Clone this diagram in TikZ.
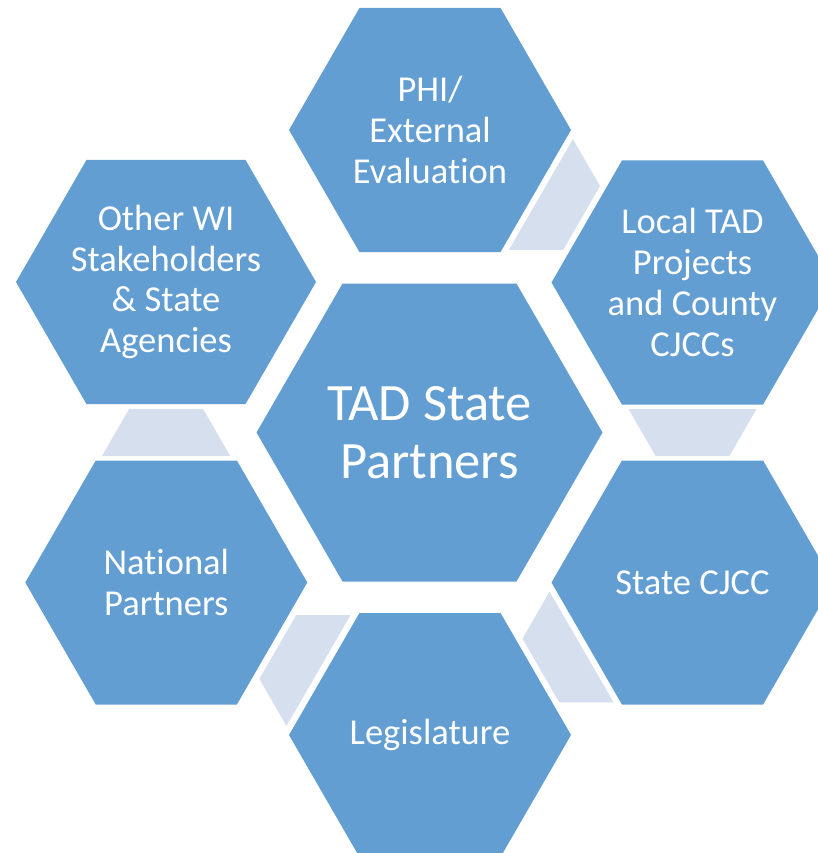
\documentclass[tikz,border=0pt]{standalone}
\usepackage{fontspec}
\setmainfont{Carlito}[Ligatures=NoCommon]
\usetikzlibrary{shapes.geometric,shapes.symbols,calc}

\definecolor{hexblue}{RGB}{99,158,210}
\definecolor{linkblue}{RGB}{213,223,238}

\begin{document}
\begin{tikzpicture}[x=1pt,y=-1pt,
    hexa/.style={signal,signal to=west and east,signal pointer angle=120,
        fill=hexblue,inner sep=0pt,outer sep=0pt,minimum height=244,minimum width=282},
    hubhexa/.style={hexa,minimum height=298,minimum width=346},
    hextext/.style={text=white,align=center,inner sep=0pt,font=\fontsize{36.5}{40.8}\selectfont},
    hubtext/.style={hextext,font=\fontsize{52.5}{58.4}\selectfont},
    link/.style={trapezium,trapezium left angle=60,trapezium right angle=60,
        fill=linkblue,inner sep=0pt,outer sep=0pt,
        text width=73.7pt,text height=47pt,text depth=0pt},
]
    \useasboundingbox (0,0) rectangle (818,853);

    % hub and the six partner cells
    \node [hubhexa] (hub) at (429.5,432.5) {};
    \node [hexa] (phi) at (430,130) {};
    \node [hexa] (local) at (692.5,282.5) {};
    \node [hexa] (statecj) at (692.5,582.5) {};
    \node [hexa] (legis) at (430,735) {};
    \node [hexa] (natl) at (166.3,582.5) {};
    \node [hexa,minimum width=300] (other) at (166,282) {};

    \node [hubtext] (hub-t) at (hub) {TAD State\\Partners};
    \node [hextext] (phi-t) at (phi) {PHI/\\External\\Evaluation};
    \node [hextext] (local-t) at (local) {Local TAD\\Projects\\and County\\CJCCs};
    \node [hextext] (statecj-t) at (statecj) {State CJCC};
    \node [hextext] (legis-t) at (legis) {Legislature};
    \node [hextext] (natl-t) at (natl) {National\\Partners};
    \node [hextext] (other-t) at (other) {Other WI\\Stakeholders\\\& State\\Agencies};

    % links between neighbouring cells, narrowing clockwise
    \node [link,rotate=240] (l1) at ($(phi)!0.5!(local)$) {};
    \node [link,rotate=180] (l2) at ($(local)!0.5!(statecj)$) {};
    \node [link,rotate=120] (l3) at ($(statecj)!0.5!(legis)$) {};
    \node [link,rotate=60] (l4) at ($(legis)!0.5!(natl)$) {};
    \node [link] (l5) at ($(natl)!0.5!(other)$) {};

\end{tikzpicture}
\end{document}
